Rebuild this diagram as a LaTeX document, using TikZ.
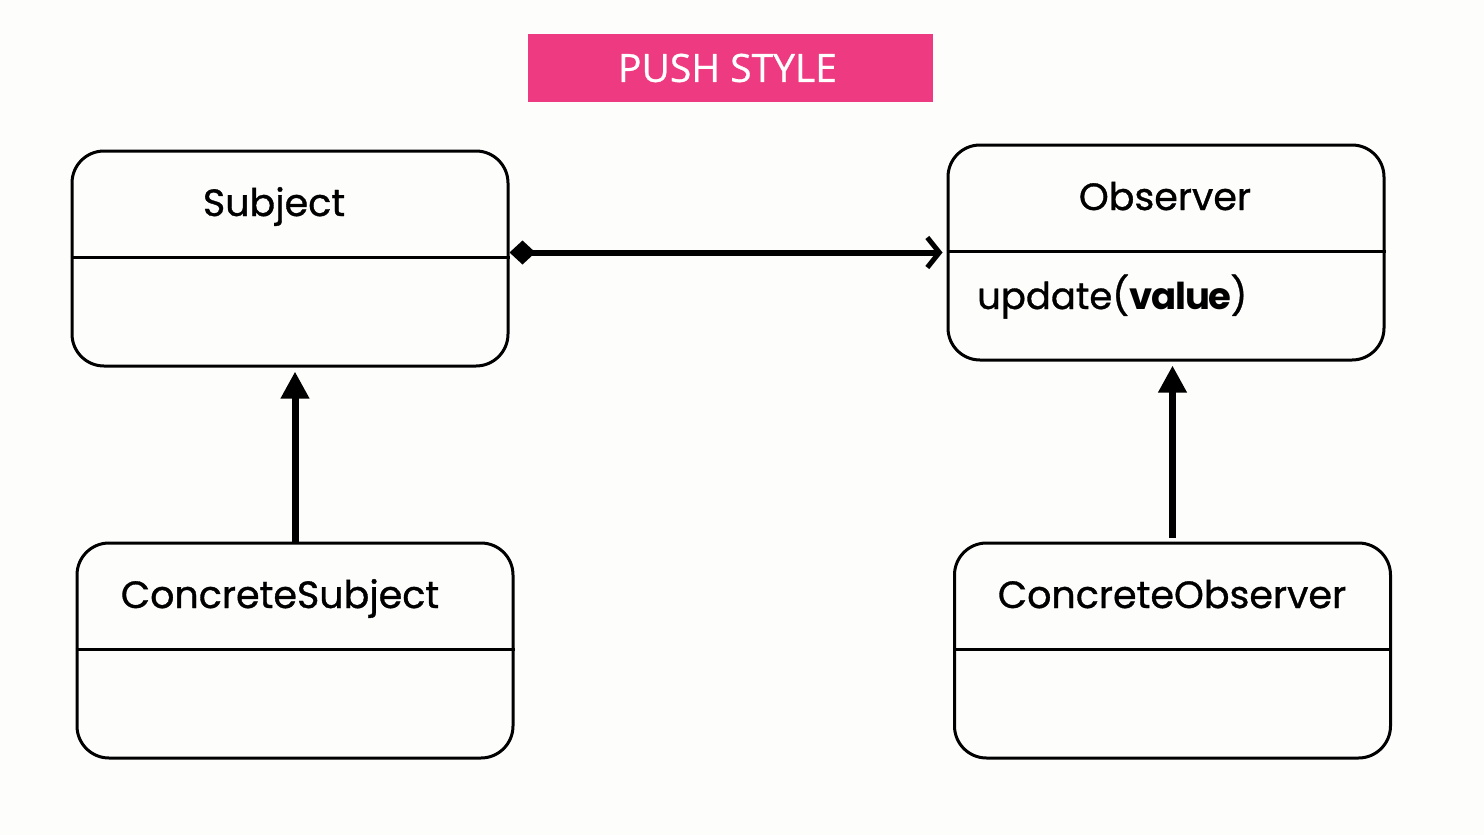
\documentclass[tikz,border=0pt]{standalone}
\usepackage{fontspec}
\setmainfont{Poppins}[UprightFeatures={FakeBold=0.9}]
\newfontfamily\titlefont{Open Sans}[FakeBold=0.6]
\usetikzlibrary{arrows.meta,calc}
\definecolor{pinkbar}{HTML}{EE3A80}
\definecolor{bgc}{HTML}{FDFDFC}
\tikzset{
  classbox/.style={draw=black,line width=3pt,rounded corners=32pt,minimum width=436pt,minimum height=215pt,inner sep=0pt},
  divider/.style={line width=3pt},
  lbl/.style={font=\fontsize{38}{42}\selectfont,inner sep=0pt,anchor=base},
  assoc/.style={line width=6pt,{Diamond[length=26pt,width=24pt]}-{Straight Barb[length=12pt,width=30pt,line width=5pt]},shorten >=4pt},
  inherit/.style={line width=7pt,-{Triangle[length=27pt,width=27pt]},shorten >=4pt}
}
\begin{document}
\begin{tikzpicture}[x=1pt,y=-1pt]
\fill[bgc] (0,0) rectangle (1484,835);
\useasboundingbox (0,0) rectangle (1484,835);
% title
\node[fill=pinkbar,minimum width=405pt,minimum height=68pt,inner sep=0pt,text=white,font=\titlefont\fontsize{39}{40}\selectfont] (title) at (730.5,68) {\hspace*{-6pt}\raisebox{-3pt}{PUSH STYLE}};
% boxes
\node[classbox] (sub) at (290,258.5) {};
\node[classbox] (obs) at (1166,252.5) {};
\node[classbox] (csub) at (295,650.5) {};
\node[classbox] (cobs) at (1172.5,650.5) {};
% dividers
\draw[divider] ($(sub.north west)+(0,108)$) -- ($(sub.north east)+(0,108)$);
\draw[divider] ($(obs.north west)+(0,108)$) -- ($(obs.north east)+(0,108)$);
\draw[divider] ($(csub.north west)+(0,108)$) -- ($(csub.north east)+(0,108)$);
\draw[divider] ($(cobs.north west)+(0,108)$) -- ($(cobs.north east)+(0,108)$);
% labels
\node[lbl] (subl) at (274,216) {Subject};
\node[lbl] (obsl) at (1165,210) {Observer};
\node[lbl] (csubl) at (280,608) {ConcreteSubject};
\node[lbl] (cobsl) at (1172,608) {ConcreteObserver};
\node[lbl,anchor=base west,font=\fontsize{37}{42}\selectfont] (upd) at (977,309) {update(\textbf{\addfontfeatures{LetterSpace=-3}value})};
% connectors
\draw[assoc] (sub.east |- obs.west) -- (obs.west);
\draw[inherit] (csub.north) -- (csub.north |- sub.south);
\draw[inherit] ($(cobs.north)+(0,-4)$) -- (cobs.north |- obs.south);
\end{tikzpicture}
\end{document}
